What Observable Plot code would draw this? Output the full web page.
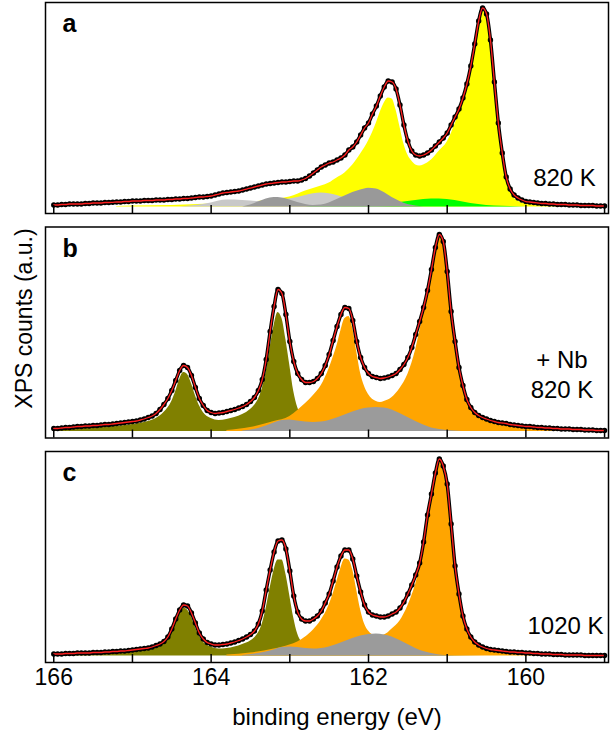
<!DOCTYPE html>
<html><head><meta charset="utf-8">
<script src="https://cdn.jsdelivr.net/npm/d3@7"></script>
<script src="https://cdn.jsdelivr.net/npm/@observablehq/plot@0.6"></script>
<style>html,body{margin:0;padding:0;background:#fff;} #chart svg{display:block;}</style>
</head><body><div id="chart"></div>
<script>
// ---- labels / categories ----
const panelIds = ["a", "b", "c"];
const panelNotes = ["820 K", "+ Nb\n820 K", "1020 K"];
const majorTicks = [166, 164, 162, 160];
const allTicks = [166, 165, 164, 163, 162, 161, 160, 159];
const xLabel = "binding energy (eV)";
const yLabel = "XPS counts (a.u.)";

// ---- measured spectra: 166.00 eV down to 159.00 eV in 0.05 eV steps ----
const energies = d3.range(141).map(i => +(166 - 0.05 * i).toFixed(2));
const aCounts = [2,2,2.5,2.5,3,3,3,3,3.5,3.5, 4,4,4,4.5,4.5,4.7,5,5,5.5,5.5, 6,6,6,6.5,6.5,6.5,7,7,7,7.5,
  7.5,8,8,8.5,8.5,9,9.5,10,10,10.5, 11,12,13,14,14.5,15,15.5,16,17,18, 19,20,21,22,23,23.5,24,24.5,25,25,
  25.5,26,26,27,28.5,31,34,37,40,42, 44,45,47,49,52,57,60,65,72,79, 84,93,101,111,120,126,125,118,102,82,
  66,56,52,51,52,54,57,61,65,69, 74,82,90,98,109,123,141,163,186,199, 193,167,125,84,54,30,18,12,9,7,
  5.5,5,4.5,4,3.5,3.5,3,3,2.5,2.5, 2.5,2,2,2,1.5,1.5,1.5,1.5,1,1, 1];
const bCounts = [3,3,3.5,4,4,4.5,5,5,5.5,5.5, 6,6,6.5,7,7,7.5,8,8.5,9,9.5, 10,10.5,11.5,12.5,14,15.5,18,22,27,33,
  41,51,61,66,64,56,44,33,26,21, 19,18,18.5,19,20,21,22,23.5,25,27, 30,34,41,52,72,100,125,142,138,117,
  90,70,58,52,49,49,50,53,58,66, 77,91,105,117,124,123,111,90,74,64, 58,55,54,53,53.5,54.5,56,58,62,67,
  74,84,97,110,124,141,162,184,197,190, 160,120,90,64,46,32,24,19,16,14, 12.5,11,10,9,8.5,8,7,6.5,6,5.5,
  5,5,4.5,4,4,3.5,3.5,3,3,2.5, 2.5,2.5,2,2,2,1.5,1.5,1.5,1,1, 1];
const cCounts = [2,2,2,2.5,2.5,2.5,3,3,3,3, 3.5,3.5,3.5,4,4,4.5,4.5,5,5,5.5, 6,6.5,7,7.5,8,9,10.5,12,14.5,19,
  27,37,46,51,50,43,33,23,17,13.5, 12,11,11,11.5,12,13,14,15.5,17,19, 21.5,25,32,45,66,86,104,115,116,107,
  85,60,44,37,35,35,37,40,45,53, 62,75,89,100,106,106,97,80,64,51, 44,41,40,39,39,40,42,44,48,54,
  62,71,81,93,114,141,162,183,197,190, 172,132,90,62,40,27,19,14,11,9, 7.5,6.5,6,5.5,5,4.5,4,4,3.5,3.5,
  3,3,2.5,2.5,2,2,2,1.5,1.5,1.5, 1,1,1,1,1,0.5,0.5,0.5,0.5,0.5, 0.5];

// ---- fitted components (energy, intensity) ----
const aYellowE = [165.2,165.0,164.5,164.0,163.5,163.0,162.8,162.6,162.5,162.4,162.3,162.2,162.1,162.0,161.9,161.85,161.8,161.75,161.7,161.65,161.6,161.55,161.5,161.45,161.4,161.35,161.3,161.2,161.1,161.0,160.9,160.8,160.75,160.7,160.65,160.6,160.55,160.5,160.45,160.4,160.35,160.3,160.25,160.2,160.15,160.1,160.0,159.8,159.5,159.2];
const aYellowH = [0.5,1,1.5,3,5,10,16,21,24,29,34,42,53,66,84,95,104,109,108,97,80,63,52,46,42,41,42,47,56,65,83,106,121,140,162,185,197,191,166,124,83,53,29,16,9,6,3,1.5,0.5,0];
const aGreenE = [162.8,162.6,162.4,162.3,162.2,162.0,161.8,161.6,161.4,161.3,161.2,161.1,161.0,160.9,160.8,160.7,160.6,160.5,160.4,160.2,160.0];
const aGreenH = [0,1.5,3.5,4,3.5,2.5,3,4.5,6.5,7.5,8,8,7.5,6.5,5,3.5,2.5,1.5,1,0.5,0];
const aLightE = [164.4,164.2,164.0,163.9,163.8,163.7,163.6,163.5,163.4,163.3,163.2,163.1,163.0,162.9,162.8,162.7,162.6,162.5,162.4,162.3,162.2,162.1,162.0,161.9,161.7];
const aLightH = [0,1.5,4,6,7,7,6.5,6,5.5,5.5,6,7,8,9.5,11.5,13.3,14,13.3,11.5,9,6,3.5,1.5,0.5,0];
const aDarkE = [163.6,163.5,163.4,163.3,163.2,163.1,163.0,162.9,162.8,162.7,162.6,162.5,162.4,162.3,162.2,162.1,162.0,161.9,161.8,161.7,161.6,161.5,161.4,161.3];
const aDarkH = [0,2,5,8,9.5,9,7,4.5,2.5,1.5,2,4,7.5,11,14.5,17,18.8,18,14.5,9.5,5.5,2.5,1,0];

const bOliveE = [166.0,165.5,165.0,164.8,164.7,164.6,164.5,164.45,164.4,164.35,164.3,164.25,164.2,164.15,164.1,164.0,163.9,163.8,163.7,163.6,163.5,163.45,163.4,163.35,163.3,163.25,163.2,163.15,163.1,163.05,163.0,162.95,162.9,162.85,162.8,162.7,162.6,162.4,162.0,161.5,161.0,160.5,160.0];
const bOliveH = [2,4,7,10,13,19,30,40,52,59,57,48,36,26,19,13,11,12,14,17,22,26,32,43,60,84,106,119,113,92,66,40,24,15,10,6,4,3,2,1.5,1,0.5,0];
const bOrangeE = [163.8,163.5,163.2,163.0,162.9,162.8,162.7,162.6,162.5,162.45,162.4,162.35,162.3,162.25,162.2,162.15,162.1,162.05,162.0,161.9,161.85,161.8,161.7,161.6,161.5,161.45,161.4,161.35,161.3,161.25,161.2,161.15,161.1,161.05,161.0,160.95,160.9,160.85,160.8,160.75,160.7,160.6,160.5,160.4,160.2,160.0,159.8,159.5,159.0];
const bOrangeH = [1,4,10,15,21,28,36,46,63,74,86,101,113,115,103,80,58,45,37,30,29,30,34,43,57,68,82,100,121,139,159,181,196,189,159,119,89,63,45,31,23,15,11,9,6,4.5,3.5,2.5,1];
const bGrayE = [163.6,163.4,163.3,163.2,163.1,163.0,162.9,162.8,162.7,162.6,162.5,162.4,162.3,162.2,162.1,162.0,161.9,161.8,161.7,161.6,161.5,161.4,161.3,161.2,161.1,161.0,160.8];
const bGrayH = [0.5,3,5.5,8.5,11,11.5,10.5,9.5,9,9.5,11,13.5,16.5,19.5,22,23.5,24,23.5,21.5,18,14,10,6.5,3.5,2,1,0];

const cOliveE = [166.0,165.5,165.0,164.8,164.7,164.6,164.55,164.5,164.45,164.4,164.35,164.3,164.25,164.2,164.15,164.1,164.0,163.9,163.8,163.7,163.6,163.5,163.45,163.4,163.35,163.3,163.25,163.2,163.15,163.1,163.05,163.0,162.95,162.9,162.85,162.8,162.7,162.6,162.4,162.0,161.5,161.0,160.5];
const cOliveH = [1.5,3,5,7,9,13,18,25,35,43,48,46,39,29,20,14,9,7,7.5,9,11.5,15,18,23,32,48,68,86,96,96,82,60,38,22,14,9,5,3.5,2.5,1.5,1,0.5,0];
const cOrangeE = [163.8,163.5,163.2,163.0,162.9,162.8,162.7,162.6,162.5,162.45,162.4,162.35,162.3,162.25,162.2,162.15,162.1,162.05,162.0,161.9,161.8,161.7,161.6,161.5,161.45,161.4,161.35,161.3,161.25,161.2,161.15,161.1,161.05,161.0,160.95,160.9,160.85,160.8,160.75,160.7,160.6,160.5,160.4,160.2,160.0,159.8,159.5,159.0];
const cOrangeH = [1,3,7,11,14,19,26,36,51,62,75,88,97,96,86,66,46,32,25,20,21,27,35,50,60,72,88,108,135,156,180,196,190,171,131,89,61,39,26,18,10,7,5.5,4,3,2,1,0.5];
const cGrayE = [163.6,163.4,163.2,163.1,163.0,162.9,162.8,162.7,162.6,162.5,162.4,162.3,162.2,162.1,162.0,161.9,161.8,161.7,161.6,161.5,161.4,161.3,161.2,161.1,160.9];
const cGrayH = [0.5,2.5,6,8.5,9,8.5,7.5,7,7.5,9,11.5,14.5,17.5,20,21.5,22,21,19,15.5,11.5,7.5,4.5,2.5,1,0];

// ---- build tables ----
const rows = (panel, E, H) => E.map((e, i) => ({panel, E: e, h: H[i]}));
const measured = [
  ...rows("a", energies, aCounts),
  ...rows("b", energies, bCounts),
  ...rows("c", energies, cCounts)
];
const layers = [
  {panel: "a", E: aYellowE, H: aYellowH, fill: "#ffff00"},
  {panel: "a", E: aGreenE, H: aGreenH, fill: "#00ff00"},
  {panel: "a", E: aLightE, H: aLightH, fill: "#c8c8c8"},
  {panel: "a", E: aDarkE, H: aDarkH, fill: "#999999"},
  {panel: "b", E: bOliveE, H: bOliveH, fill: "#808000"},
  {panel: "b", E: bOrangeE, H: bOrangeH, fill: "#ffa500"},
  {panel: "b", E: bGrayE, H: bGrayH, fill: "#9b9b9b"},
  {panel: "c", E: cOliveE, H: cOliveH, fill: "#808000"},
  {panel: "c", E: cOrangeE, H: cOrangeH, fill: "#ffa500"},
  {panel: "c", E: cGrayE, H: cGrayH, fill: "#9b9b9b"}
];

const noteStyle = [
  {dx: -44, dy: -28},
  {dx: -46.5, dy: -40},
  {dx: -43, dy: -29}
];

const marks = [
  ...layers.map(L => Plot.areaY(rows(L.panel, L.E, L.H), {
    x: "E", y: "h", fy: "panel", fill: L.fill, curve: "monotone-x"
  })),
  Plot.line(measured, {x: "E", y: "h", fy: "panel", z: "panel", stroke: "black", strokeWidth: 3.5, curve: "monotone-x"}),
  Plot.dot(measured, {x: "E", y: "h", fy: "panel", r: 2.7, fill: "black", stroke: null}),
  Plot.line(measured, {x: "E", y: "h", fy: "panel", z: "panel", stroke: "#ff2020", strokeWidth: 1.3, curve: "monotone-x"}),
  Plot.frame({stroke: "black", strokeWidth: 1.5}),
  Plot.ruleX(allTicks, {x: d => d, insetTop: 203, stroke: "black", strokeWidth: 1.5}),
  Plot.axisX(majorTicks, {anchor: "bottom", tickSize: 0, tickPadding: 6, fontSize: 23, label: null, tickFormat: d => String(d)}),
  Plot.text(panelIds, {fy: d => d, text: d => d, frameAnchor: "top-left", textAnchor: "start", lineAnchor: "top",
    dx: 17, dy: 12, fontSize: 25, fontWeight: "bold"}),
  ...panelIds.map((p, i) => Plot.text([panelNotes[i]], {
    fy: () => p, text: d => d, frameAnchor: "bottom-right", textAnchor: "middle", lineAnchor: "bottom",
    lineHeight: 1.25, fontSize: 24, dx: noteStyle[i].dx, dy: noteStyle[i].dy
  })),
  Plot.text([yLabel], {fy: () => "b", text: d => d, frameAnchor: "left", rotate: -90, textAnchor: "middle",
    lineAnchor: "middle", dx: -20.5, dy: -14, fontSize: 23}),
  Plot.text([xLabel], {fy: () => "c", text: d => d, frameAnchor: "bottom", textAnchor: "middle",
    lineAnchor: "bottom", dx: 10, dy: 62, fontSize: 24})
];

const chart = Plot.plot({
  width: 610,
  height: 734,
  marginLeft: 45,
  marginRight: 2,
  marginTop: 2,
  marginBottom: 72,
  x: {domain: [166.105, 158.95]},
  y: {domain: [-6.5, 204.5], axis: null},
  fy: {domain: panelIds, axis: null, paddingInner: 0.0601, paddingOuter: 0, round: false},
  style: {fontFamily: "'Liberation Sans', Arial, sans-serif", background: "white", color: "black"},
  marks
});
document.getElementById("chart").appendChild(chart);
</script></body></html>
